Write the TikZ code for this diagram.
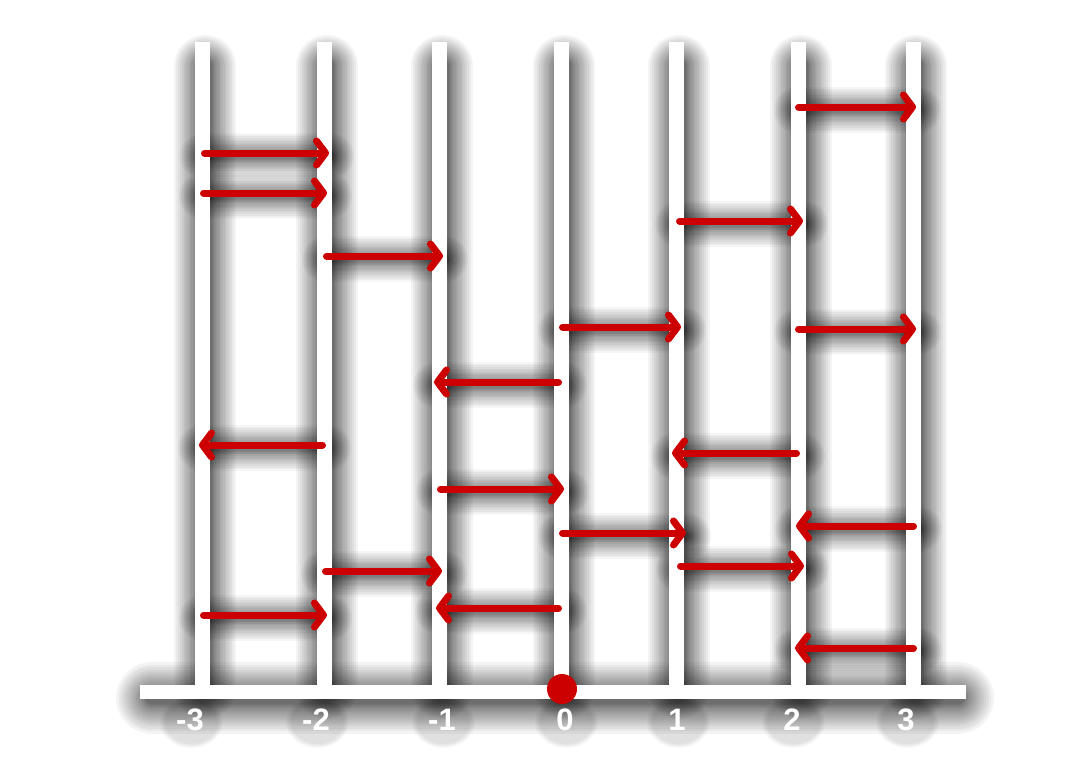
\documentclass[tikz,border=0pt]{standalone}
\usepackage{fontspec}
\setmainfont{Liberation Sans}
\usetikzlibrary{arrows.meta,fadings}
\definecolor{arrowred}{RGB}{204,0,0}
\tikzset{
  post/.style={white, line width=15pt},
  arr/.style={arrowred, line width=7pt, line cap=round,
    -{Straight Barb[length=9pt,width=24pt,round]}},
  lab/.style={font=\bfseries\fontsize{31}{31}\selectfont, inner sep=0pt},
}
% soft shadow: #1 base width, #2 opacity per layer, #3 reach, #4 shift, #5 path
\newcommand{\shadowline}[5]{%
  \foreach \k in {1,...,18}{%
    \pgfmathsetmacro\lw{#1+2*#3*(\k/18)^1.6}%
    \draw[black, opacity=#2, line width=\lw pt, line cap=round, shift={#4}] #5;
  }%
}
\begin{document}
\begin{tikzpicture}[x=1pt,y=-1pt]
\useasboundingbox (0,0) rectangle (1068,777);
\fill[white] (0,0) rectangle (1068,777);
% shadows of posts and axis
\foreach \xx in {202,324,439,561,676,798,913}{
  \shadowline{14}{0.045}{24}{(3,2)}{(\xx,64) -- (\xx,686)}
}
\shadowline{12}{0.045}{30}{(2,6)}{(150,692) -- (956,692)}
% shadows of arrows
\foreach \a/\b/\y in {201/329/153,200/327/193,200/327/615,323/443/256,322/442/571,437/564/489,559/681/327,559/686/533,676/803/221,677/804/566,795/916/107,795/916/329,326/199/445,562/434/382,562/436/608,800/672/453,917/796/526,917/795/648}{
  \shadowline{6}{0.037}{20}{(2,3)}{(\a,\y) -- (\b,\y)}
}
% label halos
\foreach \lx in {190,316,442,565,677,792,906}{
  \fill[black, opacity=0.12, path fading=circle with fuzzy edge 20 percent] (\lx+1,722) ellipse (32pt and 26pt);
}
% posts and axis
\foreach \xx [count=\i] in {202,324,439,561,676,798,913}{
  \draw[post] (\xx,42) coordinate (top\i) -- (\xx,686) coordinate (bot\i);
}
\draw[white, line width=14pt] (140,692) coordinate (axL) -- (966,692) coordinate (axR);
% right arrows
\foreach \a/\b/\y in {201/329/153,200/327/193,200/327/615,323/443/256,322/442/571,437/564/489,559/681/327,559/686/533,676/803/221,677/804/566,795/916/107,795/916/329}{
  \draw[arr] (\a+3.5,\y) -- (\b,\y);
}
% left arrows
\foreach \a/\b/\y in {326/199/445,562/434/382,562/436/608,800/672/453,917/796/526,917/795/648}{
  \draw[arr] (\a-3.5,\y) -- (\b,\y);
}
% origin dot
\fill[arrowred] (562,689) circle (15pt);
% labels
\foreach \lx/\t in {190/-3,316/-2,442/-1,565/0,677/1,792/2,906/3}{
  \node[lab, text=white] at (\lx,720) {\t};
}
\end{tikzpicture}
\end{document}
